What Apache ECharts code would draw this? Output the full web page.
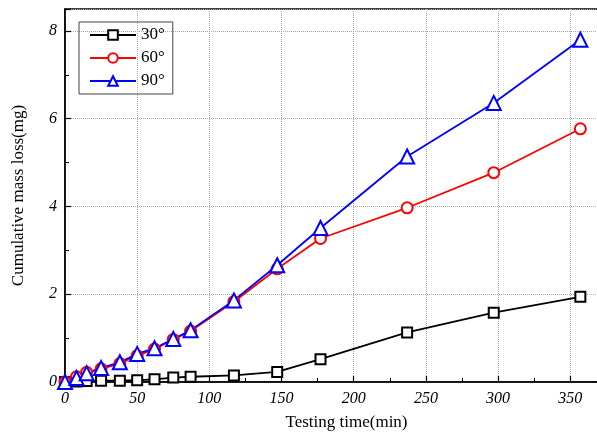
<!DOCTYPE html>
<html>
<head>
<meta charset="utf-8">
<script src="https://cdn.jsdelivr.net/npm/echarts@6/dist/echarts.min.js"></script>
<style>
  html, body { margin: 0; padding: 0; background: #fff; }
  #chart { width: 597px; height: 437px; }
</style>
</head>
<body>
<div id="chart"></div>
<script>
// testing time (min)
const times = [0, 8, 15, 25, 38, 50, 62, 75, 87, 117, 147, 177, 237, 297, 357]

// cumulative mass loss (mg)
const loss30 = [0, 0.01, 0.02, 0.03, 0.03, 0.04, 0.06, 0.1, 0.12, 0.15, 0.23, 0.52, 1.13, 1.58, 1.94]
const loss60 = [0, 0.12, 0.22, 0.3, 0.42, 0.6, 0.75, 0.97, 1.16, 1.83, 2.58, 3.27, 3.97, 4.77, 5.77]
const loss90 = [0, 0.09, 0.2, 0.32, 0.45, 0.64, 0.77, 0.98, 1.18, 1.86, 2.66, 3.51, 5.14, 6.36, 7.8]

const seriesNames = ['30°', '60°', '90°']

const font = 'Liberation Serif'

function pairs(ys) {
  return times.map((t, i) => [t, ys[i]])
}

function makeSeries(name, ys, color, symbol, size) {
  return {
    name: name,
    type: 'line',
    data: pairs(ys),
    symbol: symbol,
    symbolSize: size,
    showAllSymbol: true,
    lineStyle: { color: color, width: 1.8 },
    itemStyle: { color: color, borderColor: color, borderWidth: 1.5 },
    emphasis: { disabled: true }
  }
}

const chart = echarts.init(document.getElementById('chart'))

chart.setOption({
  animation: false,
  backgroundColor: '#fff',
  grid: {
    left: 65,
    top: 9,
    right: -31,
    bottom: 55,
    outerBoundsMode: 'none', // plot runs past the right edge like the cropped original
    show: true,
    borderColor: '#000',
    borderWidth: 1.5
  },
  legend: {
    left: 79,
    top: 22,
    orient: 'vertical',
    data: seriesNames,
    itemWidth: 46,
    itemHeight: 12,
    itemGap: 5,
    padding: [4, 8, 4, 10],
    borderColor: '#444',
    borderWidth: 1,
    textStyle: { fontFamily: font, fontSize: 17, color: '#000', lineHeight: 18 }
  },
  xAxis: {
    type: 'value',
    min: 0,
    max: 390,
    interval: 50,
    name: 'Testing time(min)',
    nameLocation: 'middle',
    nameGap: 32,
    nameTextStyle: { fontFamily: font, fontSize: 17, color: '#000' },
    axisLine: { show: true, lineStyle: { color: '#000', width: 1.5 } },
    axisTick: { inside: true, length: 6, lineStyle: { color: '#000', width: 1.2 } },
    minorTick: { show: true, splitNumber: 2, length: 4, lineStyle: { color: '#000', width: 1 } },
    axisLabel: { fontFamily: font, fontStyle: 'italic', fontSize: 16, color: '#000', margin: 9, showMaxLabel: false },
    splitLine: { show: true, lineStyle: { type: 'dotted', color: '#aaa', width: 1 } }
  },
  yAxis: {
    type: 'value',
    min: 0,
    max: 8.5,
    interval: 2,
    name: 'Cumulative mass loss(mg)',
    nameLocation: 'middle',
    nameGap: 38,
    nameTextStyle: { fontFamily: font, fontSize: 17, color: '#000' },
    axisLine: { show: true, lineStyle: { color: '#000', width: 1.5 } },
    axisTick: { inside: true, length: 6, lineStyle: { color: '#000', width: 1.2 } },
    minorTick: { show: true, splitNumber: 2, length: 4, lineStyle: { color: '#000', width: 1 } },
    axisLabel: { fontFamily: font, fontStyle: 'italic', fontSize: 16, color: '#000', margin: 8,
      formatter: v => (v % 2 === 0 ? String(v) : '') },
    splitLine: { show: true, lineStyle: { type: 'dotted', color: '#aaa', width: 1 } }
  },
  series: [
    makeSeries(seriesNames[0], loss30, '#000', 'emptyRect', 10),
    makeSeries(seriesNames[1], loss60, '#ff0000', 'emptyCircle', 11),
    makeSeries(seriesNames[2], loss90, '#0000ff', 'emptyTriangle', 14)
  ]
})
</script>
</body>
</html>
